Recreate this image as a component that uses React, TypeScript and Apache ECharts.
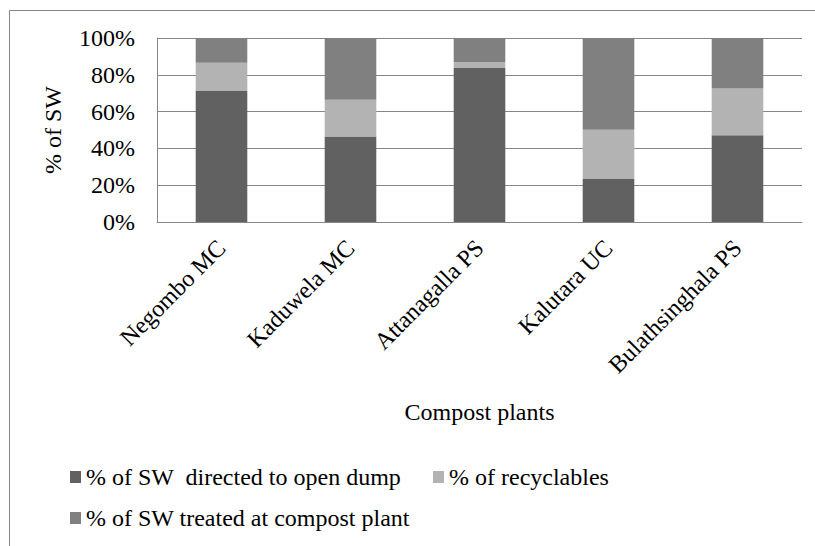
import React, { useEffect, useRef } from "react";
import * as echarts from "echarts";

const categories = ["Negombo MC", "Kaduwela MC", "Attanagalla PS", "Kalutara UC", "Bulathsinghala PS"];
const openDump = [71.4, 46.4, 84.0, 23.7, 47.2];
const recyclables = [15.2, 20.1, 3.0, 26.4, 25.3];
const compost = [13.4, 33.5, 13.0, 49.9, 27.5];
const seriesNames = [
  "% of SW  directed to open dump",
  "% of recyclables",
  "% of SW treated at compost plant",
];
const yTicks = [0, 20, 40, 60, 80, 100];

const FONT = "Liberation Serif";

export default function App() {
  const ref = useRef<HTMLDivElement>(null);
  useEffect(() => {
    if (!ref.current) return;
    const chart = echarts.init(ref.current, undefined, { renderer: "svg" });
    const base = { fontSize: 24, color: "#000", fontFamily: FONT };
    const colors = ["#616161", "#b3b3b3", "#808080"];
    const values = [openDump, recyclables, compost];
    const legendCommon = {
      icon: "rect",
      itemWidth: 11,
      itemHeight: 12,
      textStyle: { ...base },
    };
    chart.setOption({
      animation: false,
      textStyle: { fontFamily: FONT },
      graphic: [
        {
          type: "rect",
          shape: { x: 9.5, y: 10.5, width: 900, height: 700 },
          style: { fill: "none", stroke: "#868686", lineWidth: 1 },
          silent: true,
        },
      ],
      grid: { left: 157, top: 38, right: 13, bottom: 324, containLabel: false },
      legend: [
        { ...legendCommon, data: [seriesNames[0]], left: 65, top: 460 },
        { ...legendCommon, data: [seriesNames[1]], left: 428, top: 460 },
        { ...legendCommon, data: [seriesNames[2]], left: 65, top: 501 },
      ],
      xAxis: {
        type: "category",
        data: categories,
        name: "Compost plants",
        nameLocation: "middle",
        nameGap: 178,
        nameTextStyle: { ...base },
        axisLine: { lineStyle: { color: "#868686", width: 1 } },
        axisTick: { show: false },
        axisLabel: { ...base, rotate: 45, margin: 22, interval: 0 },
      },
      yAxis: {
        type: "value",
        min: yTicks[0],
        max: yTicks[yTicks.length - 1],
        interval: 20,
        name: "% of SW",
        nameLocation: "middle",
        nameRotate: 90,
        nameGap: 92,
        nameTextStyle: { ...base },
        axisLine: { show: true, lineStyle: { color: "#868686", width: 1 } },
        axisTick: { show: false },
        splitLine: { lineStyle: { color: "#868686", width: 1 } },
        axisLabel: { ...base, margin: 22, formatter: "{value}%" },
      },
      series: seriesNames.map((name, i) => ({
        name,
        type: "bar",
        stack: "total",
        barWidth: "40%",
        data: values[i],
        itemStyle: { color: colors[i] },
      })),
    });
    return () => chart.dispose();
  }, []);
  return (
    <div
      ref={ref}
      style={{ position: "fixed", left: 0, top: 0, width: 815, height: 546, background: "#fff" }}
    />
  );
}
